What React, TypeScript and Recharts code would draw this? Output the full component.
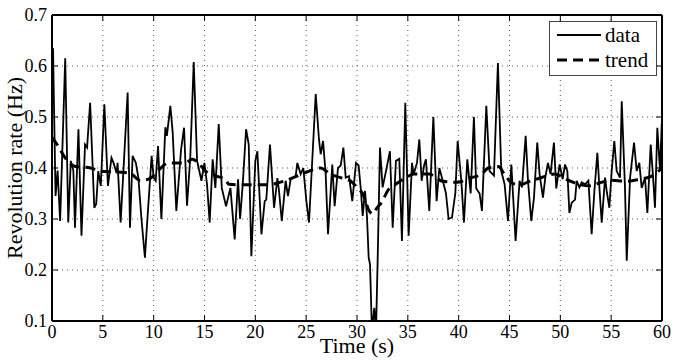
import { LineChart, Line, XAxis, YAxis, CartesianGrid, Legend } from 'recharts';

const dataTime = [
  0, 0.1, 0.35, 0.55, 0.8, 1.3, 1.6, 1.85, 2.1, 2.26, 2.6, 2.9, 3.25, 3.45, 3.75, 4.16, 4.35, 4.55, 4.8, 5.15,
  5.5, 5.85, 6.05, 6.35, 6.45, 6.75, 7.44, 7.67, 7.93, 8.25, 8.5, 8.8, 9.14, 9.35, 9.8,
  10.0, 10.2, 10.43, 10.76, 11.15, 11.3, 11.64, 11.87, 12.23, 12.7, 12.99, 13.28, 13.6, 13.94, 14.27, 14.7, 14.99,
  15.25, 15.51, 15.8, 16.07, 16.4, 16.7, 17.12, 17.55, 17.97, 18.3, 18.5, 18.76, 19.09, 19.35, 19.61, 20.0,
  20.2, 20.6, 20.92, 21.08, 21.44, 21.84, 22.17, 22.33, 22.6, 22.98, 23.21, 23.48, 23.97, 24.13, 24.46, 24.72,
  25.02, 25.28, 25.94, 26.26, 26.43, 26.66, 26.92, 27.15, 27.57, 27.8, 28.13, 28.4, 28.66, 28.89, 29.21, 29.54, 29.9,
  30.16, 30.39, 30.56, 30.79, 30.98, 31.15, 31.28, 31.47, 31.7, 31.87, 32.03, 32.26, 32.52, 32.79, 33.24, 33.51,
  33.83, 34.16, 34.42, 34.75, 35.08, 35.41, 35.57, 35.9, 36.13, 36.36, 36.62, 36.78, 37.11, 37.51, 37.83, 38.1,
  38.49, 38.75, 39.01, 39.34, 39.67, 39.9,
  40.26, 40.52, 40.85, 41.18, 41.5, 41.73, 42.06, 42.29, 42.72, 43.04, 43.47, 43.86, 44.19, 44.52, 44.85, 45.18,
  45.6, 45.99, 46.23, 46.59, 46.82, 47.14, 47.41, 47.73, 47.96, 48.29, 48.52, 48.78, 49.04, 49.37, 49.6, 49.93,
  50.23, 50.46, 50.69, 50.89, 51.12, 51.45, 51.61, 51.87, 52.1, 52.43, 52.76, 53.08, 53.35, 53.64, 53.84, 54.07,
  54.4, 54.56, 54.82, 55.05, 55.31, 55.54, 55.87, 56.04, 56.36, 56.53, 56.86, 57.25, 57.51, 57.77, 58.0, 58.33,
  58.56, 58.89, 59.08, 59.31, 59.54, 59.81, 59.97, 60,
];
const dataRate = [
  0.63, 0.635, 0.345, 0.395, 0.296, 0.615, 0.293, 0.414, 0.395, 0.283, 0.476, 0.267, 0.446, 0.44, 0.528, 0.322, 0.33, 0.394, 0.365, 0.525,
  0.365, 0.42, 0.41, 0.39, 0.41, 0.293, 0.548, 0.283, 0.424, 0.41, 0.38, 0.3, 0.224, 0.29, 0.424,
  0.381, 0.375, 0.443, 0.3, 0.48, 0.463, 0.522, 0.47, 0.316, 0.437, 0.479, 0.326, 0.42, 0.608, 0.414, 0.375, 0.41,
  0.368, 0.293, 0.417, 0.361, 0.486, 0.361, 0.325, 0.361, 0.26, 0.378, 0.3, 0.368, 0.476, 0.446, 0.227, 0.414,
  0.433, 0.27, 0.335, 0.338, 0.446, 0.322, 0.38, 0.355, 0.296, 0.375, 0.345, 0.378, 0.384, 0.41, 0.388, 0.4,
  0.335, 0.293, 0.545, 0.456, 0.427, 0.453, 0.388, 0.27, 0.407, 0.325, 0.4, 0.405, 0.44, 0.381, 0.384, 0.335, 0.41,
  0.405, 0.355, 0.306, 0.355, 0.306, 0.224, 0.211, 0.08, 0.126, 0.08, 0.218, 0.44, 0.362, 0.388, 0.433, 0.283,
  0.414, 0.418, 0.257, 0.528, 0.267, 0.41, 0.388, 0.41, 0.456, 0.375, 0.407, 0.417, 0.316, 0.5, 0.335, 0.4,
  0.371, 0.35, 0.3, 0.303, 0.35, 0.453,
  0.375, 0.293, 0.417, 0.35, 0.5, 0.36, 0.35, 0.316, 0.522, 0.394, 0.385, 0.606, 0.394, 0.368, 0.296, 0.407,
  0.257, 0.375, 0.362, 0.463, 0.375, 0.296, 0.342, 0.45, 0.388, 0.342, 0.381, 0.41, 0.388, 0.45, 0.36, 0.407,
  0.378, 0.407, 0.394, 0.312, 0.332, 0.338, 0.375, 0.362, 0.372, 0.368, 0.375, 0.27, 0.355, 0.43, 0.362, 0.293,
  0.381, 0.355, 0.322, 0.394, 0.453, 0.394, 0.381, 0.531, 0.361, 0.218, 0.381, 0.45, 0.394, 0.41, 0.361, 0.381,
  0.312, 0.446, 0.394, 0.322, 0.479, 0.394, 0.486, 0.49,
];

// smoothed trend
const trendTime = [
  0, 0.6, 1.3, 2.3, 3.8, 4.7, 6.4, 7.7, 8.3, 8.7, 9.7, 10.2, 11.5, 12.1, 13.1, 13.8, 14.4, 15.1, 16.2, 17.05,
  17.4, 18.7, 21, 22.8, 24.1, 25.3, 26.4, 27.4, 28.4, 29.4, 30.1, 30.55, 31.2, 31.55, 31.9, 32.5, 33, 33.8, 34.8,
  35.6, 37.1, 38.4, 39.8, 41.2, 42.2, 42.9, 43.9, 44.5, 45.2, 46, 47, 48.1, 49.4, 51, 52, 52.9, 53.9, 54.9, 56.5,
  57.8, 59, 60,
];
const trendRate = [
  0.46, 0.443, 0.42, 0.403, 0.4, 0.394, 0.392, 0.39, 0.38, 0.375, 0.38, 0.39, 0.41, 0.41, 0.41, 0.417, 0.41, 0.394, 0.384, 0.378,
  0.368, 0.367, 0.367, 0.374, 0.384, 0.394, 0.4, 0.388, 0.381, 0.374, 0.36, 0.35, 0.316, 0.31, 0.32, 0.335, 0.355, 0.368, 0.381,
  0.388, 0.388, 0.374, 0.372, 0.381, 0.387, 0.4, 0.403, 0.388, 0.371, 0.367, 0.374, 0.381, 0.388, 0.374, 0.367, 0.365, 0.371, 0.376, 0.374,
  0.378, 0.384, 0.4,
];

const xTicks = [0, 5, 10, 15, 20, 25, 30, 35, 40, 45, 50, 55, 60];
const yTicks = [0.1, 0.2, 0.3, 0.4, 0.5, 0.6, 0.7];

const dataPoints = dataTime.map((t, i) => ({ t, v: dataRate[i] }));
const trendPoints = trendTime.map((t, i) => ({ t, v: trendRate[i] }));

const font = '"Liberation Serif", "Times New Roman", serif';
const frame = { stroke: '#000', strokeWidth: 2 };
const tickStyle = { fill: '#000', fontSize: 18, fontFamily: font };
const noLabel = () => <g />;

function LegendBox() {
  return (
    <svg width={108} height={55} style={{ display: 'block' }}>
      <rect x={0.5} y={0.5} width={107} height={54} fill="#fff" stroke="#444" />
      <line x1={8} y1={14} x2={52} y2={14} stroke="#000" strokeWidth={1.8} />
      <text x={56} y={14} dominantBaseline="central" fontSize={21} fontFamily={font}>data</text>
      <line x1={8} y1={39} x2={52} y2={39} stroke="#000" strokeWidth={3} strokeDasharray="10 6" />
      <text x={56} y={39} dominantBaseline="central" fontSize={21} fontFamily={font}>trend</text>
    </svg>
  );
}

export default function App() {
  return (
    <div style={{ position: 'absolute', left: 0, top: 0, background: '#fff' }}>
      <LineChart width={676} height={363} margin={{ top: 14, right: 13, bottom: 0, left: 0 }}>
        <CartesianGrid stroke="#555" strokeDasharray="1 4" xAxisId="b" yAxisId="l" />
        <XAxis
          xAxisId="b" dataKey="t" type="number" domain={[0, 60]} ticks={xTicks} allowDataOverflow
          height={42} axisLine={frame} tickLine={{ stroke: '#000' }} tickSize={-6} tickMargin={10}
          tick={tickStyle}
          label={{ value: 'Time (s)', position: 'insideBottom', offset: 10, style: { fontSize: 22, fontFamily: font, fill: '#000' } }}
        />
        <XAxis
          xAxisId="t" orientation="top" dataKey="t" type="number" domain={[0, 60]} ticks={xTicks} allowDataOverflow
          height={1} axisLine={frame} tickLine={{ stroke: '#000' }} tickSize={-6} tick={noLabel}
        />
        <YAxis
          yAxisId="l" type="number" domain={[0.1, 0.7]} ticks={yTicks} allowDataOverflow
          width={52} axisLine={frame} tickLine={{ stroke: '#000' }} tickSize={-6} tickMargin={11}
          tick={tickStyle} tickFormatter={(v: number) => v.toFixed(1)}
          label={{ value: 'Revolution rate (Hz)', angle: -90, position: 'insideLeft', offset: 14, style: { fontSize: 22, fontFamily: font, fill: '#000', textAnchor: 'middle' } }}
        />
        <YAxis
          yAxisId="r" orientation="right" type="number" domain={[0.1, 0.7]} ticks={yTicks} allowDataOverflow
          width={1} axisLine={frame} tickLine={{ stroke: '#000' }} tickSize={-6} tick={noLabel}
        />
        <Line
          xAxisId="b" yAxisId="l" data={dataPoints} dataKey="v" type="linear"
          stroke="#000" strokeWidth={1.8} dot={false} isAnimationActive={false}
        />
        <Line
          xAxisId="t" yAxisId="r" data={trendPoints} dataKey="v" type="monotone"
          stroke="#000" strokeWidth={3} strokeDasharray="10 6" dot={false} isAnimationActive={false}
        />
        <Legend
          layout="horizontal" verticalAlign="middle" align="center"
          wrapperStyle={{ left: 549, top: 21, width: 108, height: 55 }}
          content={() => <LegendBox />}
        />
      </LineChart>
    </div>
  );
}
